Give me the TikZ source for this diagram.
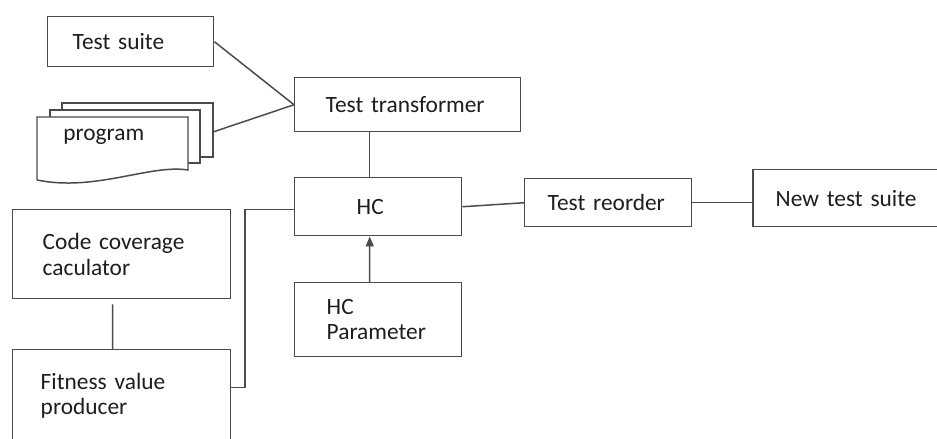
\documentclass[tikz,border=0pt]{standalone}
\usepackage{fontspec}
\setmainfont{Carlito}
\usetikzlibrary{positioning,arrows.meta}
\definecolor{linegray}{RGB}{75,75,75}
\definecolor{textgray}{RGB}{30,30,30}

\begin{document}
\begin{tikzpicture}[
        x=0.02cm, y=-0.02cm,
        % one look for every block, sizes set per node
        box/.style={rectangle, draw=linegray, line width=0.85pt, fill=white,
            anchor=north west, align=left, inner ysep=0pt,
            text=textgray, font=\fontsize{13.3}{14.5}\selectfont},
        page/.style={draw=linegray, line width=0.85pt, fill=white},
        link/.style={draw=linegray, line width=0.85pt}
    ]
        \useasboundingbox (0,0) rectangle (937,439);

        \node[box, inner xsep=0.5cm, text width=2.32cm, minimum height=1.0cm] (suite) at (47,16) {Test suite};

        % stacked pages for the program
        \draw[page] (62,157) -- (62,103) -- (213,103) -- (213,157) -- cycle;
        \draw[page] (50,163) -- (50,110) -- (200,110) -- (200,163) -- cycle;
        \draw[page] (37,180) -- (37,117) -- (188,117) -- (188,170)
            .. controls (150,164) and (95,192) .. (37,180);
        \node[anchor=west, inner sep=0pt, text=textgray, font=\fontsize{13.3}{14.5}\selectfont] (prog) at (63,137) {program};
        \coordinate (progtip) at (213,132);

        \node[box, inner xsep=0.62cm, text width=3.28cm, minimum height=1.08cm] (trans) at (294,77) {Test transformer};
        \node[box, inner xsep=1.24cm, text width=0.86cm, minimum height=1.16cm] (hc) at (294,177) {HC};
        \node[box, inner xsep=0.64cm, text width=2.06cm, minimum height=1.48cm] (param) at (294,282) {HC\\Parameter};
        \node[box, inner xsep=0.46cm, text width=2.42cm, minimum height=0.96cm] (reorder) at (524,178) {\mbox{Test reorder}};
        \node[box, inner xsep=0.46cm, text width=3.1cm, minimum height=1.14cm] (newsuite) at (752,169) {New test suite};
        \node[box, inner xsep=0.6cm, text width=3.16cm, minimum height=1.78cm] (cover) at (12,209) {Code coverage\\caculator};
        \node[box, inner xsep=0.56cm, text width=3.24cm, minimum height=1.84cm] (fit) at (12,349) {Fitness value\\producer};

        % Connections
        \draw[link] (suite.east) -- (trans.west);
        \draw[link] (progtip) -- (trans.west);
        \draw[link] ([xshift=-0.17cm]hc.north) -- ([xshift=-0.17cm]hc.north |- trans.south);
        \draw[link, -{Triangle[length=0.2cm, width=0.16cm]}] ([xshift=-0.17cm]param.north) -- ([xshift=-0.17cm]hc.south);
        \draw[link] (hc.east) -- (reorder.west);
        \draw[link] (reorder.east) -- (reorder.east -| newsuite.west);
        \draw[link, shorten <=0.1cm] ([xshift=-0.18cm]cover.south) -- ([xshift=-0.18cm]fit.north);
        \draw[link] ([yshift=-0.06cm]hc.west) -- ++(-49,0) |- ([yshift=0.16cm]fit.east);
    \end{tikzpicture}
\end{document}
